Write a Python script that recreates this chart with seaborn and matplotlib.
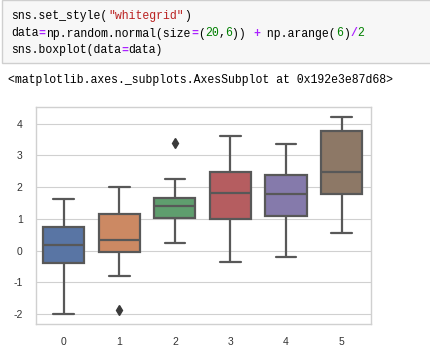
import numpy as np
import pandas as pd
import matplotlib
matplotlib.use("Agg")
import matplotlib.pyplot as plt
import matplotlib.patches as mpatches
import seaborn as sns

# values (9 per column -> exact quartiles, whiskers and outliers)
col0 = [-2.00, -0.90, -0.40, -0.10, 0.19, 0.50, 0.74, 1.20, 1.62]
col1 = [-1.87, -0.81, -0.03, 0.15, 0.32, 0.70, 1.16, 1.60, 2.00]
col2 = [0.23, 0.70, 1.02, 1.20, 1.39, 1.50, 1.67, 2.24, 3.40]
col3 = [-0.37, 0.50, 1.00, 1.40, 1.81, 2.10, 2.47, 3.00, 3.61]
col4 = [-0.21, 0.60, 1.08, 1.40, 1.78, 2.00, 2.37, 2.90, 3.36]
col5 = [0.55, 1.20, 1.78, 2.10, 2.47, 3.20, 3.76, 4.00, 4.21]
columns = [0, 1, 2, 3, 4, 5]

data = pd.DataFrame(dict(zip(columns, [col0, col1, col2, col3, col4, col5])))

W, H = 431, 360
sns.set_style("whitegrid", {"axes.edgecolor": "#d0d0d0", "grid.color": "#d0d0d0"})
plt.rcParams["font.family"] = ["Liberation Sans", "DejaVu Sans"]
plt.rcParams["axes.unicode_minus"] = False
fig = plt.figure(figsize=(W / 100, H / 100), dpi=100)

# notebook code cell background
fig.patches.append(mpatches.Rectangle((2.5 / W, 1 - 63 / H), 440 / W, 62.5 / H,
                                      transform=fig.transFigure, facecolor="#f7f7f7",
                                      edgecolor="#cfcfcf", linewidth=1, zorder=0))

cw = 6.92  # pixels per character
mono = "Liberation Mono"
fs = cw / 0.6 * 72 / 100
red, purple, green = "#ba2121", "#aa22ff", "#008000"


def code_line(segments, x0, baseline):
    col = 0
    for text, color in segments:
        fig.text((x0 + col * cw) / W, 1 - baseline / H, text, color=color,
                 family=mono, fontsize=fs, va="baseline", ha="left",
                 fontweight="bold" if color == purple else "normal")
        col += len(text)


code_line([("sns.set_style(", "black"), ('"whitegrid"', red), (")", "black")], 11, 19.5)
code_line([("data", "black"), ("=", purple), ("np.random.normal(size", "black"), ("=", purple),
           ("(", "black"), ("20", green), (",", "black"), ("6", green), (")) ", "black"),
           ("+", purple), (" np.arange(", "black"), ("6", green), (")", "black"),
           ("/", purple), ("2", green)], 11, 36.5)
code_line([("sns.boxplot(data", "black"), ("=", purple), ("data)", "black")], 11, 53.5)
code_line([("<matplotlib.axes._subplots.AxesSubplot at 0x192e3e87d68>", "black")], 8, 83)

ax = fig.add_axes([36 / W, 1 - 324 / H, 335 / W, 217 / H])
sns.boxplot(data=data, ax=ax, palette="deep", saturation=0.75, width=0.74,
            linecolor="#585858", linewidth=1.6,
            flierprops=dict(marker="d", markersize=5, markerfacecolor="#3a3a3a",
                            markeredgecolor="#3a3a3a"))
ax.xaxis.grid(False)
ax.set_xlim(-0.5, 5.53)
ax.set_yticks([-2, -1, 0, 1, 2, 3, 4])
ax.tick_params(labelsize=7.5, colors="#333333", pad=6)
for s in ax.spines.values():
    s.set_linewidth(1)

fig.savefig("out.png", dpi=100)
